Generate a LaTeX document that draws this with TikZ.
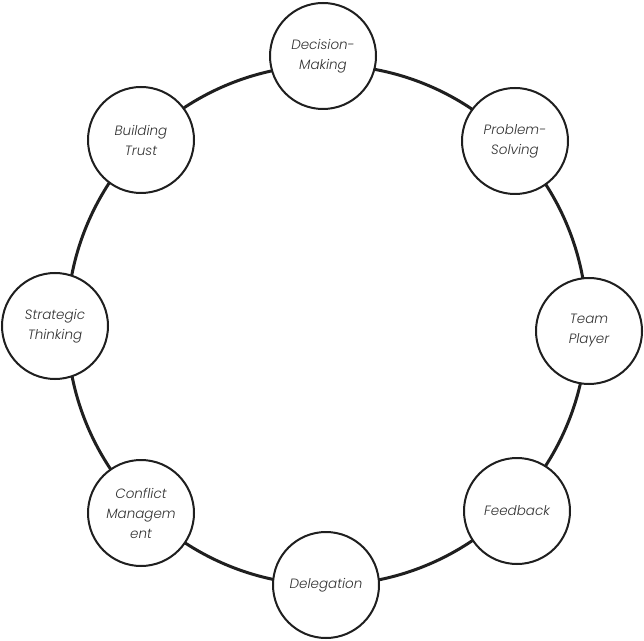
\documentclass[tikz,border=0pt]{standalone}
\usepackage{fontspec}
\newfontfamily\lblfont{Poppins Light Italic}
\begin{document}
\begin{tikzpicture}[x=1pt,y=1pt,
  stage/.style={circle, draw=black!88, line width=2pt, fill=white,
    minimum size=106pt, inner sep=0pt, align=center,
    font=\lblfont\fontsize{13.5}{20}\selectfont, text=black!80},
  link/.style={line width=3pt, draw=black!88}]
\useasboundingbox (0,0) rectangle (644,640);
\coordinate (hub) at (327,315);
\draw[link] (hub) circle (260);
\node[stage] (dm) at (323,584) {Decision-\\Making};
\node[stage] (ps) at (515,499) {Problem-\\Solving};
\node[stage] (tp) at (589,309) {Team\\Player};
\node[stage] (fb) at (517,129) {Feedback};
\node[stage] (dl) at (326,55) {Delegation};
\node[stage] (cm) at (141,127) {Conflict\\Managem\\ent};
\node[stage] (st) at (55,314) {Strategic\\Thinking};
\node[stage] (bt) at (141,500) {Building\\Trust};
\end{tikzpicture}
\end{document}
